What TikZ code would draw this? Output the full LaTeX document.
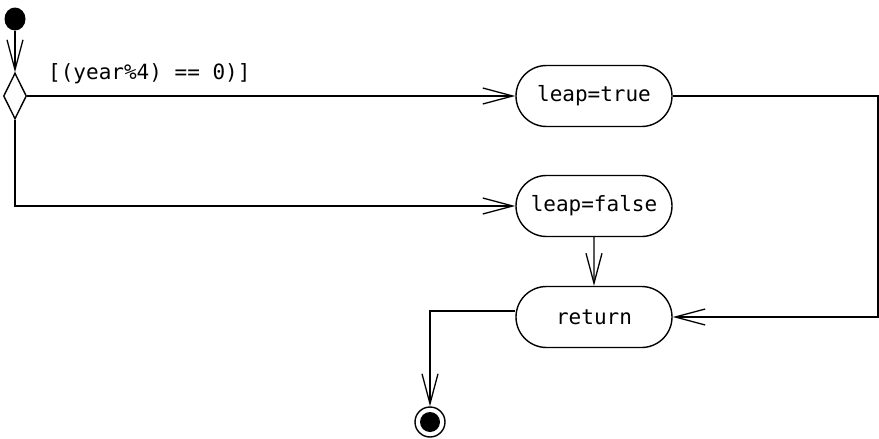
\documentclass[tikz,border=0pt]{standalone}
\usepackage{fontspec}
\setmonofont{DejaVu Sans Mono}
\usetikzlibrary{arrows.meta,shapes.geometric,shapes.misc}
\begin{document}
\begin{tikzpicture}[x=1pt,y=-1pt,
  flow/.style={draw,line width=1.3pt,-{Straight Barb[length=30pt,width=16pt,line width=1.3pt]}},
  action/.style={draw,line width=1.4pt,rounded rectangle,minimum width=156pt,minimum height=61pt,inner sep=0pt,font=\ttfamily\fontsize{21pt}{25pt}\selectfont},
  decision/.style={draw,line width=1.4pt,diamond,minimum width=23pt,minimum height=46pt,inner sep=0pt},
  guard/.style={font=\ttfamily\fontsize{21pt}{25pt}\selectfont,inner sep=0pt}]
\useasboundingbox (0,0) rectangle (879,439);
\node[ellipse,fill=black,minimum width=21pt,minimum height=23pt,inner sep=0pt] (start) at (15,19) {};
\node[decision] (dec) at (15,96) {};
\node[action] (true) at (594,96) {leap=true};
\node[action] (false) at (594,206) {leap=false};
\node[action] (ret) at (594,317) {return};
\node[circle,draw,line width=1.4pt,minimum size=30pt,inner sep=0pt] (final) at (430,422) {};
\fill (final.center) circle (10pt);
\coordinate (rc) at (878,96);
\node[guard,anchor=base west] (g) at (48,79) {[(year\%4) == 0)]};
\draw[flow] (start) -- (dec);
\draw[flow] (dec.east) -- (true.west);
\draw[flow] (dec.south) |- (false.west);
\draw[flow] (false) -- (ret);
\draw[flow] (true.east) -- (rc) |- (ret.east);
\draw[flow] ([yshift=6pt]ret.west) -| (final.north);
\end{tikzpicture}
\end{document}
